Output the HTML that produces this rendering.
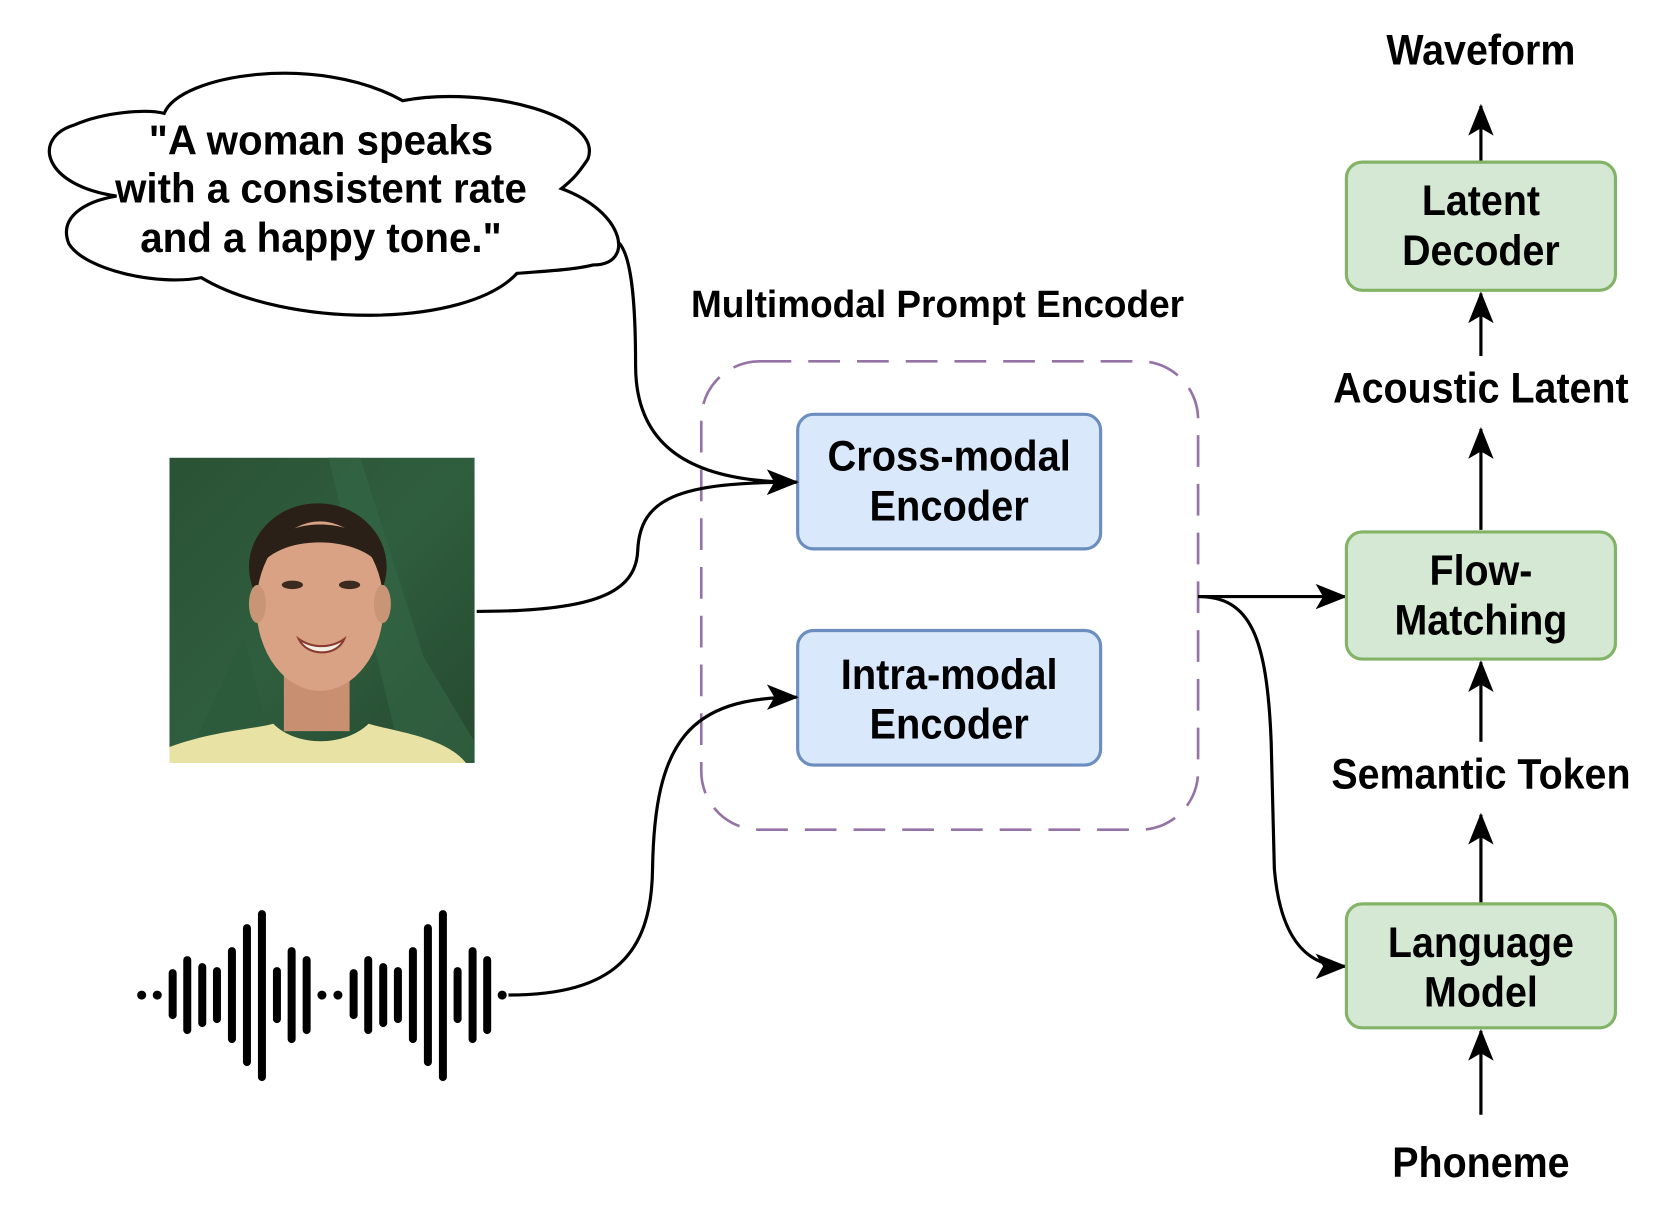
<!DOCTYPE html>
<html><head><meta charset="utf-8"><style>
html,body{margin:0;padding:0;background:#fff;}
svg{display:block;}
text{font-family:"Liberation Sans",sans-serif;font-weight:bold;fill:#000;text-anchor:middle;}
</style></head><body>
<svg width="1661" height="1226" viewBox="0 0 1568 1157" preserveAspectRatio="none" xmlns="http://www.w3.org/2000/svg">
<defs>
<marker id="ah2" markerWidth="30" markerHeight="30" refX="28" refY="15" orient="auto" markerUnits="userSpaceOnUse" viewBox="0 0 30 30">
<path d="M0,3 L30,15 L0,27 L7,15 Z" fill="#000"/>
</marker>
<linearGradient id="bg" x1="0" y1="0" x2="1" y2="1">
<stop offset="0" stop-color="#2a5234"/><stop offset="0.5" stop-color="#2f5e3e"/><stop offset="1" stop-color="#26492f"/>
</linearGradient>
</defs>

<!-- cloud -->
<path d="M110,185 C40,175 30,130 70,118 C100,105 140,103 155,107 C170,70 300,50 380,95 C460,80 570,110 555,150 C545,165 540,170 530,178 C590,200 600,250 560,250 C540,255 510,256 488,258 C440,310 270,310 190,262 C150,270 80,255 65,230 C55,205 80,190 110,185 Z" fill="#fff" stroke="#000" stroke-width="3"/>
<g transform="translate(303,0) scale(0.975,1)">
<text x="0" y="146" font-size="39">"A woman speaks</text>
<text x="0" y="191" font-size="39">with a consistent rate</text>
<text x="0" y="238" font-size="39">and a happy tone."</text>
</g>

<!-- photo -->
<g>
<rect x="160" y="432" width="288" height="288" fill="url(#bg)"/>
<path d="M310,432 L340,432 L400,620 L448,700 L448,720 L380,720 Z" fill="#346846" opacity="0.6"/>
<path d="M175,720 L230,600 L260,720 Z" fill="#2c5a3a" opacity="0.6"/>
<ellipse cx="300" cy="535" rx="65" ry="60" fill="#2a2018"/>
<rect x="268" y="610" width="62" height="80" fill="#c89070"/>
<ellipse cx="302" cy="572" rx="60" ry="80" fill="#d9a284"/>
<ellipse cx="243" cy="570" rx="8" ry="18" fill="#c99577"/>
<ellipse cx="361" cy="570" rx="8" ry="18" fill="#c99577"/>
<path d="M242,540 C245,480 360,480 362,540 C350,505 260,500 242,540 Z" fill="#2a2018"/>
<ellipse cx="276" cy="552" rx="10" ry="4" fill="#3a2a20"/>
<ellipse cx="330" cy="552" rx="10" ry="4" fill="#3a2a20"/>
<path d="M282,603 C295,612 312,612 325,603 C318,620 290,620 282,603 Z" fill="#f4f0e6" stroke="#8a3c30" stroke-width="2"/>
<path d="M160,720 L160,705 C200,690 240,688 258,683 C280,705 325,705 348,683 C370,690 420,695 440,720 Z" fill="#e8e2a4"/>
</g>

<!-- waveform -->
<g transform="scale(0.9438)" stroke="#000" stroke-width="8" stroke-linecap="round" fill="#000">
<circle cx="141.7" cy="995" r="4.5" stroke="none"/>
<circle cx="157.3" cy="995" r="4.5" stroke="none"/>
<line x1="172.7" y1="973" x2="172.7" y2="1015"/>
<line x1="187.3" y1="960" x2="187.3" y2="1030"/>
<line x1="202.3" y1="967" x2="202.3" y2="1023"/>
<line x1="217" y1="971" x2="217" y2="1019"/>
<line x1="232" y1="951" x2="232" y2="1039"/>
<line x1="247" y1="928" x2="247" y2="1062"/>
<line x1="262" y1="914" x2="262" y2="1077"/>
<line x1="277" y1="971" x2="277" y2="1019"/>
<line x1="291.7" y1="951" x2="291.7" y2="1039"/>
<line x1="306.7" y1="960" x2="306.7" y2="1030"/>
<circle cx="322" cy="995" r="4.5" stroke="none"/>
<circle cx="338" cy="995" r="4.5" stroke="none"/>
<line x1="353.7" y1="973" x2="353.7" y2="1015"/>
<line x1="368.3" y1="960" x2="368.3" y2="1030"/>
<line x1="383.3" y1="967" x2="383.3" y2="1023"/>
<line x1="398" y1="971" x2="398" y2="1019"/>
<line x1="413" y1="951" x2="413" y2="1039"/>
<line x1="428" y1="928" x2="428" y2="1062"/>
<line x1="443" y1="914" x2="443" y2="1077"/>
<line x1="457.7" y1="971" x2="457.7" y2="1019"/>
<line x1="472.7" y1="951" x2="472.7" y2="1039"/>
<line x1="487.3" y1="960" x2="487.3" y2="1030"/>
<circle cx="502.3" cy="995" r="4.5" stroke="none"/>
</g>

<!-- multimodal encoder -->
<g transform="translate(885,0) scale(0.97,1)">
<text x="0" y="299" font-size="36">Multimodal Prompt Encoder</text>
</g>
<rect x="662" y="341" width="469" height="442" rx="55" fill="none" stroke="#9673a6" stroke-width="2.5" stroke-dasharray="30 16"/>
<rect x="753" y="391" width="286" height="127" rx="15" fill="#dae8fc" stroke="#6c8ebf" stroke-width="3"/>
<rect x="753" y="595" width="286" height="127" rx="15" fill="#dae8fc" stroke="#6c8ebf" stroke-width="3"/>
<g transform="translate(896,0) scale(0.94,1)">
<text x="0" y="444" font-size="40">Cross-modal</text>
<text x="0" y="491" font-size="40">Encoder</text>
<text x="0" y="650" font-size="40">Intra-modal</text>
<text x="0" y="697" font-size="40">Encoder</text>
</g>

<!-- connectors -->
<g fill="none" stroke="#000" stroke-width="3">
<path d="M583,228 C598,240 600,300 600,345 C600,420 650,455 752,455" marker-end="url(#ah2)"/>
<path d="M450,577 C560,577 600,560 602,520 C604,470 640,455 752,455" marker-end="url(#ah2)"/>
<path d="M480,939 C580,939 615,900 616,820 C618,700 650,658 752,658" marker-end="url(#ah2)"/>
<path d="M1131,563 L1270,563" marker-end="url(#ah2)"/>
<path d="M1131,563 C1180,563 1196,600 1200,700 L1203,820 C1208,880 1230,912 1270,912" marker-end="url(#ah2)"/>
<path d="M1398,152 L1398,100" marker-end="url(#ah2)"/>
<path d="M1398,336 L1398,277" marker-end="url(#ah2)"/>
<path d="M1398,500 L1398,405" marker-end="url(#ah2)"/>
<path d="M1398,700 L1398,625" marker-end="url(#ah2)"/>
<path d="M1398,852 L1398,769" marker-end="url(#ah2)"/>
<path d="M1398,1052 L1398,973" marker-end="url(#ah2)"/>
</g>

<!-- right column -->
<rect x="1271" y="153" width="254" height="121" rx="15" fill="#d5e8d4" stroke="#82b366" stroke-width="3"/>
<rect x="1271" y="502" width="254" height="120" rx="15" fill="#d5e8d4" stroke="#82b366" stroke-width="3"/>
<rect x="1271" y="853" width="254" height="117" rx="15" fill="#d5e8d4" stroke="#82b366" stroke-width="3"/>
<g transform="translate(1398,0) scale(0.93,1)">
<text x="0" y="61" font-size="40">Waveform</text>
<text x="0" y="203" font-size="40">Latent</text>
<text x="0" y="250" font-size="40">Decoder</text>
<text x="0" y="380" font-size="40">Acoustic Latent</text>
<text x="0" y="552" font-size="40">Flow-</text>
<text x="0" y="599" font-size="40">Matching</text>
<text x="0" y="744" font-size="40">Semantic Token</text>
<text x="0" y="903" font-size="40">Language</text>
<text x="0" y="950" font-size="40">Model</text>
<text x="0" y="1111" font-size="40">Phoneme</text>
</g>
</svg>
</body></html>
